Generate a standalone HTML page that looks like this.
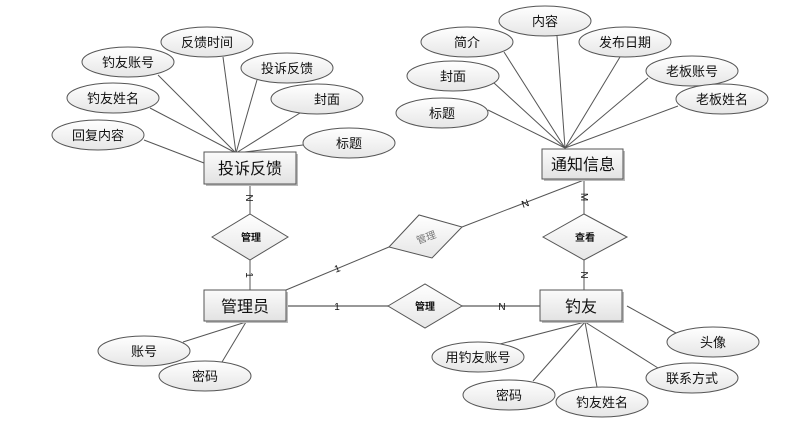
<!DOCTYPE html>
<html><head><meta charset="utf-8"><style>
html,body{margin:0;padding:0;background:#fff;}
svg{display:block;}
text{font-family:"Liberation Sans","Noto Sans CJK SC",sans-serif;fill:#111;}
</style></head><body>
<svg width="809" height="423" viewBox="0 0 809 423" xmlns="http://www.w3.org/2000/svg">
<defs>
<linearGradient id="eg" x1="0" y1="0" x2="0" y2="1"><stop offset="0" stop-color="#ffffff"/><stop offset="1" stop-color="#e6e6e6"/></linearGradient>
<linearGradient id="rg" x1="0" y1="0" x2="0" y2="1"><stop offset="0" stop-color="#fbfbfb"/><stop offset="1" stop-color="#e2e2e2"/></linearGradient>
</defs>
<g stroke="#555" stroke-width="1" fill="none">
<!-- 投诉反馈 attrs -->
<line x1="236" y1="153" x2="158" y2="75"/>
<line x1="236" y1="153" x2="223" y2="57"/>
<line x1="236" y1="153" x2="257" y2="80"/>
<line x1="236" y1="153" x2="300" y2="113"/>
<line x1="236" y1="153" x2="303" y2="145"/>
<line x1="236" y1="153" x2="150" y2="108"/>
<line x1="204" y1="163" x2="144" y2="140"/>
<!-- 通知信息 attrs -->
<line x1="565" y1="148" x2="504" y2="52"/>
<line x1="565" y1="148" x2="557" y2="36"/>
<line x1="565" y1="148" x2="620" y2="57"/>
<line x1="565" y1="148" x2="494" y2="83"/>
<line x1="565" y1="148" x2="648" y2="78"/>
<line x1="565" y1="148" x2="488" y2="110"/>
<line x1="565" y1="148" x2="678" y2="106"/>
<!-- relations -->
<line x1="250" y1="186" x2="250" y2="214"/>
<line x1="250" y1="260" x2="250" y2="290"/>
<line x1="286" y1="290" x2="389" y2="247"/>
<line x1="462" y1="227" x2="584" y2="180"/>
<line x1="584" y1="180" x2="584" y2="214"/>
<line x1="584" y1="260" x2="584" y2="290"/>
<line x1="286" y1="306" x2="388" y2="306" stroke-width="1.5" stroke="#777"/>
<line x1="462" y1="306" x2="540" y2="306" stroke-width="1.5" stroke="#777"/>
<!-- 管理员 attrs -->
<line x1="246" y1="322" x2="183" y2="342"/>
<line x1="246" y1="322" x2="222" y2="362"/>
<!-- 钓友 attrs -->
<line x1="585" y1="322" x2="500" y2="344"/>
<line x1="585" y1="322" x2="533" y2="381"/>
<line x1="585" y1="322" x2="597" y2="387"/>
<line x1="585" y1="322" x2="658" y2="368"/>
<line x1="627" y1="306" x2="676" y2="333"/>
</g>
<!-- ellipses -->
<g stroke="#555" stroke-width="1" fill="url(#eg)">
<ellipse cx="207" cy="42" rx="46" ry="15"/>
<ellipse cx="128" cy="62" rx="46" ry="15"/>
<ellipse cx="287" cy="68" rx="46" ry="15"/>
<ellipse cx="113" cy="98" rx="46" ry="15"/>
<ellipse cx="317" cy="99" rx="46" ry="15"/>
<ellipse cx="98" cy="135" rx="46" ry="15"/>
<ellipse cx="349" cy="143" rx="46" ry="15"/>
<ellipse cx="545" cy="21" rx="46" ry="15"/>
<ellipse cx="467" cy="42" rx="46" ry="15"/>
<ellipse cx="625" cy="42" rx="46" ry="15"/>
<ellipse cx="453" cy="76" rx="46" ry="15"/>
<ellipse cx="692" cy="71" rx="46" ry="15"/>
<ellipse cx="442" cy="113" rx="46" ry="15"/>
<ellipse cx="722" cy="99" rx="46" ry="15"/>
<ellipse cx="144" cy="351" rx="46" ry="15"/>
<ellipse cx="205" cy="376" rx="46" ry="15"/>
<ellipse cx="713" cy="342" rx="46" ry="15"/>
<ellipse cx="478" cy="357" rx="46" ry="15"/>
<ellipse cx="692" cy="378" rx="46" ry="15"/>
<ellipse cx="509" cy="395" rx="46" ry="15"/>
<ellipse cx="602" cy="402" rx="46" ry="15"/>
</g>
<g font-size="13" text-anchor="middle">
<text x="207" y="47">反馈时间</text>
<text x="128" y="67">钓友账号</text>
<text x="287" y="73">投诉反馈</text>
<text x="113" y="103">钓友姓名</text>
<text x="327" y="104">封面</text>
<text x="349" y="148">标题</text>
<text x="98" y="140">回复内容</text>
<text x="545" y="26">内容</text>
<text x="467" y="47">简介</text>
<text x="625" y="47">发布日期</text>
<text x="453" y="81">封面</text>
<text x="692" y="76">老板账号</text>
<text x="442" y="118">标题</text>
<text x="722" y="104">老板姓名</text>
<text x="144" y="356">账号</text>
<text x="205" y="381">密码</text>
<text x="713" y="347">头像</text>
<text x="478" y="362">用钓友账号</text>
<text x="692" y="383">联系方式</text>
<text x="509" y="400">密码</text>
<text x="602" y="407">钓友姓名</text>
</g>
<!-- entity rects -->
<g stroke="#555" stroke-width="1" fill="url(#rg)">
<rect x="206" y="154" width="92" height="32" fill="#bbb" stroke="none"/>
<rect x="204" y="152" width="92" height="32"/>
<rect x="544" y="151" width="81" height="30" fill="#bbb" stroke="none"/>
<rect x="542" y="149" width="81" height="30"/>
<rect x="206" y="292" width="82" height="31" fill="#bbb" stroke="none"/>
<rect x="204" y="290" width="82" height="31"/>
<rect x="542" y="292" width="82" height="31" fill="#bbb" stroke="none"/>
<rect x="540" y="290" width="82" height="31"/>
</g>
<g font-size="16" text-anchor="middle">
<text x="250" y="174">投诉反馈</text>
<text x="583" y="170">通知信息</text>
<text x="245" y="312">管理员</text>
<text x="581" y="312">钓友</text>
</g>
<!-- diamonds -->
<g stroke="#555" stroke-width="1" fill="url(#eg)">
<polygon points="212,237 250,214 288,237 250,260"/>
<polygon points="543,237 584,214 627,237 584,260"/>
<polygon points="388,306 425,284 462,306 425,328"/>
<polygon points="389,247 419,215 462,227 432,258"/>
</g>
<g font-size="10" text-anchor="middle" font-weight="bold">
<text x="251" y="241">管理</text>
<text x="585" y="241">查看</text>
<text x="425" y="310">管理</text>
</g>
<text x="426" y="241" font-size="10" text-anchor="middle" fill="#777" style="fill:#777" transform="rotate(-20 426 237)">管理</text>
<!-- cardinality -->
<g font-size="10" text-anchor="middle" font-family="Liberation Serif,serif">
<text x="250" y="202" transform="rotate(90 250 198)">N</text>
<text x="250" y="279" transform="rotate(90 250 275)">1</text>
<text x="337" y="272" transform="rotate(-20 337 268)">1</text>
<text x="337" y="310">1</text>
<text x="525" y="207" transform="rotate(-20 525 203)">N</text>
<text x="585" y="201" transform="rotate(90 585 197)">M</text>
<text x="585" y="279" transform="rotate(90 585 275)">N</text>
<text x="502" y="310">N</text>
</g>
</svg>
</body></html>
